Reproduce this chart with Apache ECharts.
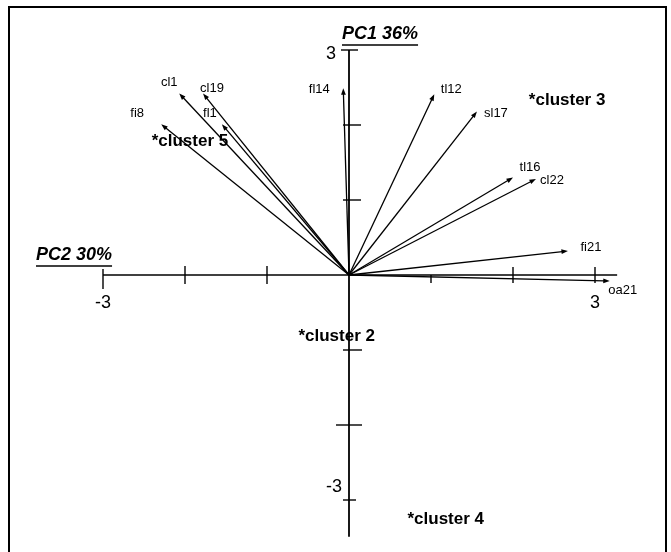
<!DOCTYPE html>
<html><head><meta charset="utf-8">
<script src="https://cdn.jsdelivr.net/npm/echarts@6/dist/echarts.min.js"></script>
<style>html,body{margin:0;padding:0;background:#fff}#c{width:671px;height:552px}</style>
</head><body><div id="c"></div>
<script>
// ---------- data ----------
const varNames   = ['cl1','cl19','fl1','fi8','fl14','tl12','sl17','tl16','cl22','fi21','oa21'];
const pc2Values  = [-2.07,-1.78,-1.55,-2.29,-0.07, 1.04, 1.56, 2.00, 2.28, 2.67, 3.18]; // horizontal
const pc1Values  = [ 2.42, 2.42, 2.01, 2.01, 2.49, 2.41, 2.18, 1.30, 1.28, 0.32,-0.08]; // vertical

const clusterNames = ['*cluster 5','*cluster 3','*cluster 2','*cluster 4'];
const clusterPC2   = [-1.94, 2.66, -0.15, 1.18];
const clusterPC1   = [ 1.78, 2.33, -0.82, -3.26];

const xTicks = [-3,-2,-1,1,2,3];
const yTicks = [3,2,1,-1,-2,-3];
const xTickLabelValues = [-3, 3];
const xTickLabels      = ['-3','3'];
const yTickLabelValues = [3, -3];
const yTickLabels      = ['3','-3'];
const xAxisExtent = [-3, 3.27];
const yAxisExtent = [-3.49, 3];
const pc1Title = 'PC1 36%';
const pc2Title = 'PC2 30%';

// ---------- styles ----------
const FONT = '"Liberation Sans", Arial, Helvetica, sans-serif';
const labelOffset = {
  cl1:[-10,-11], cl19:[9,-5], fl1:[-12,-11], fi8:[-24,-11], fl14:[-24,1],
  tl12:[17,-5], sl17:[19,2], tl16:[17,-10], cl22:[16,1], fi21:[23,-4], oa21:[13,9]
};
// tick spans [before, after] in px (x ticks: up/down ; y ticks: left/right)
const xTickSpan = [[6,14],[9,9],[9,9],[0,8],[8,8],[8,8]];
const yTickSpan = [[8,9],[6,12],[6,12],[6,13],[13,13],[6,7]];
const xTickLabelOffset = [[0,28],[0,28]];
const yTickLabelOffset = [[-18,4],[-15,-13]];

const chart = echarts.init(document.getElementById('c'), null, {renderer:'canvas'});

function axesRender(params, api) {
  const xl = api.coord([xAxisExtent[0],0]), xr = api.coord([xAxisExtent[1],0]);
  const yt = api.coord([0,yAxisExtent[1]]), yb = api.coord([0,yAxisExtent[0]]);
  const ch = [
    {type:'line', shape:{x1:xl[0],y1:xl[1],x2:xr[0],y2:xr[1]}, style:{stroke:'#000',lineWidth:1.6}},
    {type:'line', shape:{x1:yt[0],y1:yt[1],x2:yb[0],y2:yb[1]}, style:{stroke:'#000',lineWidth:1.8}}
  ];
  xTicks.forEach((v,i)=>{
    const p = api.coord([v,0]); const s = xTickSpan[i];
    ch.push({type:'line', shape:{x1:p[0],y1:p[1]-s[0],x2:p[0],y2:p[1]+s[1]}, style:{stroke:'#000',lineWidth:1.4}});
  });
  yTicks.forEach((v,i)=>{
    const p = api.coord([0,v]); const s = yTickSpan[i];
    ch.push({type:'line', shape:{x1:p[0]-s[0],y1:p[1],x2:p[0]+s[1],y2:p[1]}, style:{stroke:'#000',lineWidth:1.4}});
  });
  xTickLabelValues.forEach((v,i)=>{
    const p = api.coord([v,0]); const o = xTickLabelOffset[i];
    ch.push({type:'text', style:{text:xTickLabels[i], x:p[0]+o[0], y:p[1]+o[1], font:'18px '+FONT, fill:'#000',
      align:'center', verticalAlign:'middle', textAlign:'center', textVerticalAlign:'middle'}});
  });
  yTickLabelValues.forEach((v,i)=>{
    const p = api.coord([0,v]); const o = yTickLabelOffset[i];
    ch.push({type:'text', style:{text:yTickLabels[i], x:p[0]+o[0], y:p[1]+o[1], font:'18px '+FONT, fill:'#000',
      align:'center', verticalAlign:'middle', textAlign:'center', textVerticalAlign:'middle'}});
  });
  return {type:'group', children:ch};
}

function arrowRender(params, api) {
  const x = api.value(0), y = api.value(1);
  const name = varNames[params.dataIndex];
  const o = api.coord([0,0]), t = api.coord([x,y]);
  const dx = t[0]-o[0], dy = t[1]-o[1];
  const L = Math.sqrt(dx*dx+dy*dy), ux = dx/L, uy = dy/L;
  const hl = 6.5, hw = 2.4;
  const bx = t[0]-ux*hl, by = t[1]-uy*hl;
  const off = labelOffset[name] || [0,0];
  return {type:'group', children:[
    {type:'line', shape:{x1:o[0],y1:o[1],x2:bx+ux*1,y2:by+uy*1}, style:{stroke:'#000',lineWidth:1.3}},
    {type:'polygon', shape:{points:[[t[0],t[1]],[bx-uy*hw,by+ux*hw],[bx+uy*hw,by-ux*hw]]}, style:{fill:'#000'}},
    {type:'text', style:{text:name, x:t[0]+off[0], y:t[1]+off[1], font:'13px '+FONT, fill:'#000',
      align:'center', verticalAlign:'middle', textAlign:'center', textVerticalAlign:'middle'}}
  ]};
}

function clusterRender(params, api) {
  const p = api.coord([api.value(0), api.value(1)]);
  return {type:'text', style:{text:clusterNames[params.dataIndex], x:p[0], y:p[1], font:'bold 17px '+FONT, fill:'#000',
    align:'center', verticalAlign:'middle', textAlign:'center', textVerticalAlign:'middle'}};
}

// measure titles for underline
const cv = document.createElement('canvas').getContext('2d');
const titleFont = 'italic bold 18px ' + FONT;
cv.font = titleFont;
const w1 = cv.measureText(pc1Title).width, w2 = cv.measureText(pc2Title).width;

function titleGraphic(text, left, baseline, w) {
  return {type:'group', children:[
    {type:'text', style:{text:text, x:left, y:baseline, font:titleFont, fill:'#000',
      align:'left', verticalAlign:'bottom', textAlign:'left', textVerticalAlign:'bottom'}},
    {type:'line', shape:{x1:left, y1:baseline+2, x2:left+w, y2:baseline+2}, style:{stroke:'#000', lineWidth:1.3}}
  ]};
}

chart.setOption({
  animation:false,
  backgroundColor:'#fff',
  grid:{left:21, right:10.4, top:12.5, bottom:14.5, containLabel:false},
  xAxis:{type:'value', min:-4, max:3.8, show:false},
  yAxis:{type:'value', min:-3.5, max:3.5, show:false},
  graphic:[
    {type:'rect', shape:{x:9, y:7, width:657, height:560}, style:{fill:'none', stroke:'#000', lineWidth:2}, silent:true},
    titleGraphic(pc1Title, 342, 43, w1),
    titleGraphic(pc2Title, 36, 264, w2)
  ],
  series:[
    {type:'custom', renderItem:axesRender, data:[[0,0]], silent:true, clip:false},
    {type:'custom', renderItem:arrowRender, data:varNames.map((n,i)=>[pc2Values[i], pc1Values[i]]), silent:true, clip:false},
    {type:'custom', renderItem:clusterRender, data:clusterNames.map((n,i)=>[clusterPC2[i], clusterPC1[i]]), silent:true, clip:false}
  ]
});
</script></body></html>
